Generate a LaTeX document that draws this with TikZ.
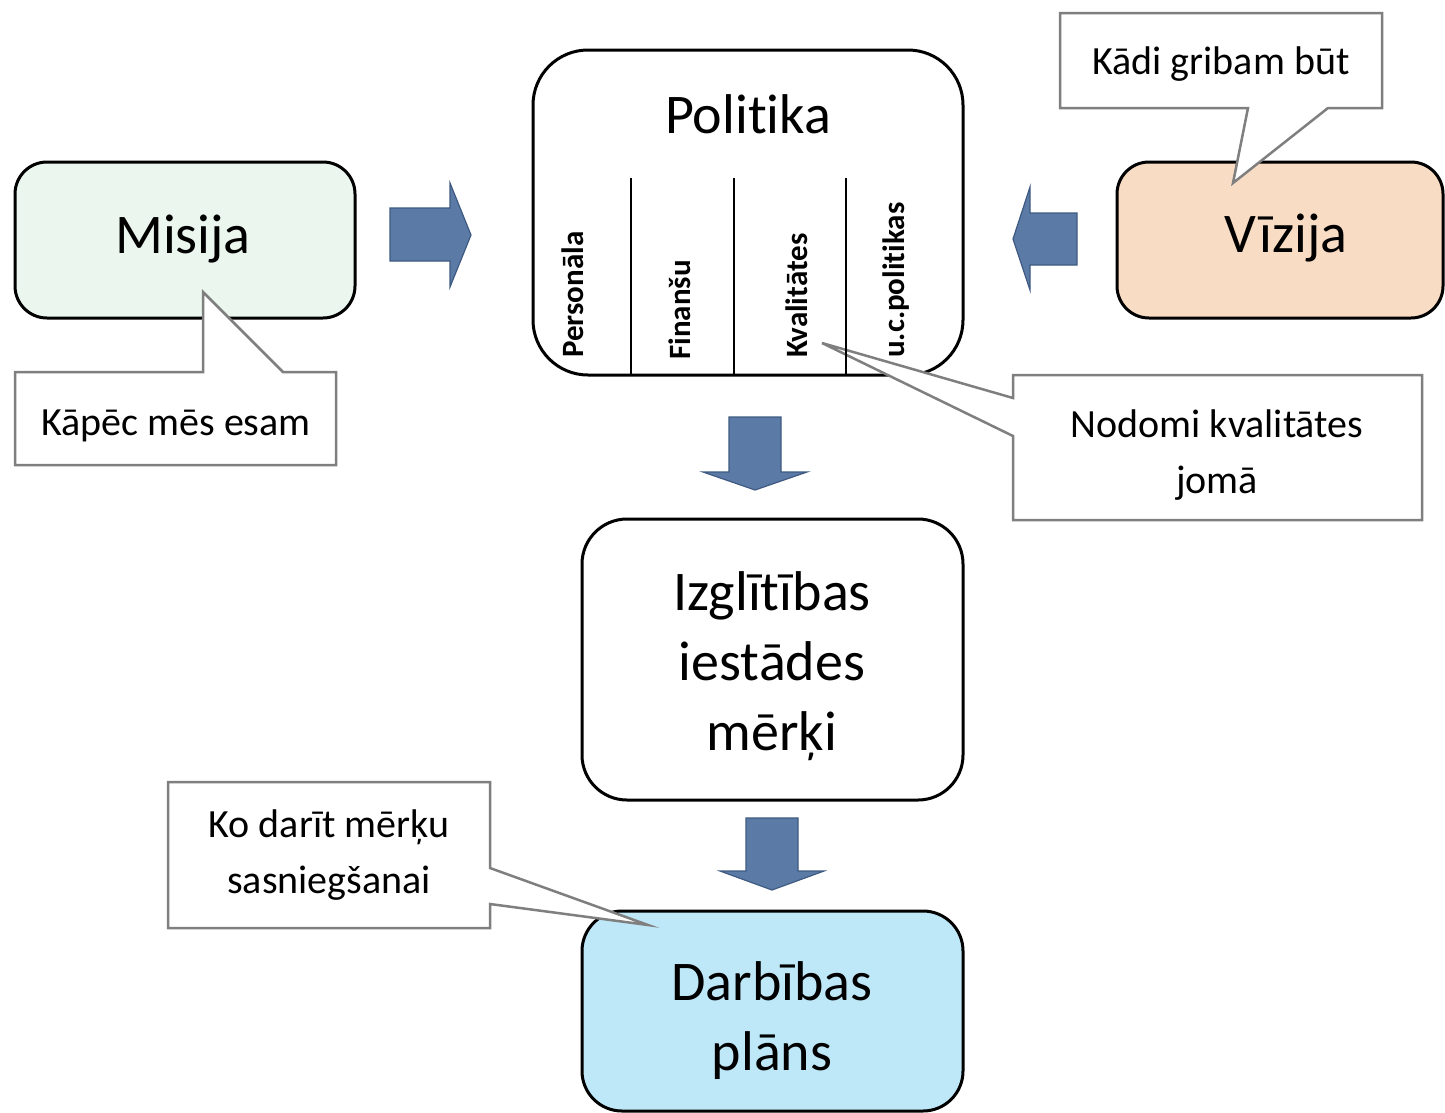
\documentclass[tikz,border=0pt]{standalone}
\usepackage{fontspec}
\setmainfont[Ligatures=NoCommon]{Carlito}
\definecolor{misfill}{HTML}{EAF6EE}
\definecolor{vizfill}{HTML}{F9DCC4}
\definecolor{darbfill}{HTML}{BEE8F8}
\definecolor{arrfill}{HTML}{5B7BA6}
\definecolor{arrline}{HTML}{3E5A82}
\definecolor{callgray}{HTML}{7F7F7F}
\begin{document}
\begin{tikzpicture}[x=1pt,y=-1pt,line join=miter]
\tikzset{
  mainbox/.style={draw=black,line width=3pt,inner sep=0pt},
  bigtxt/.style={inner sep=0pt,anchor=base,font=\fontsize{56}{68}\selectfont},
  smalltxt/.style={inner sep=0pt,anchor=base,font=\fontsize{40}{48}\selectfont},
  vtxt/.style={inner sep=0pt,anchor=west,rotate=90,font=\fontsize{31}{36}\selectfont\bfseries},
  callout/.style={draw=callgray,fill=white,line width=2.5pt},
  blockarrow/.style={fill=arrfill,draw=arrline,line width=1.2pt},
  divider/.style={draw=black,line width=1.5pt}
}
\useasboundingbox (0,0) rectangle (1445,1112);

% main boxes
\node[mainbox,fill=misfill,rounded corners=32pt,minimum width=340pt,minimum height=156pt] (misija) at (185,240) {};
\node[mainbox,fill=white,rounded corners=55pt,minimum width=430pt,minimum height=325pt] (politika) at (748,212.5) {};
\node[mainbox,fill=vizfill,rounded corners=32pt,minimum width=326pt,minimum height=156pt] (vizija) at (1280,240) {};
\node[mainbox,fill=white,rounded corners=45pt,minimum width=381pt,minimum height=281pt] (merki) at (772.5,659.5) {};
\node[mainbox,fill=darbfill,rounded corners=40pt,minimum width=381pt,minimum height=200pt] (plans) at (772.5,1011) {};

% box texts
\node[bigtxt] (tmis) at (183,253) {Misija};
\node[bigtxt] (tpol) at (748,133) {Politika};
\node[bigtxt] (tviz) at (1286,252) {Vīzija};
\node[bigtxt] (tiz1) at (772,610) {Izglītības};
\node[bigtxt] (tiz2) at (772,680) {iestādes};
\node[bigtxt] (tiz3) at (772,750) {mērķi};
\node[bigtxt] (tdb1) at (772,1000) {Darbības};
\node[bigtxt] (tdb2) at (772,1070) {plāns};

\node[vtxt] (vper) at (573,358) {Personāla};
\node[vtxt] (vfin) at (680,360) {Finanšu};
\node[vtxt] (vkva) at (797,358) {Kvalitātes};
\node[vtxt] (vucp) at (896,358) {u.c.politikas};

% block arrows
\draw[blockarrow] (390,208) -- (450,208) -- (450,183) -- (471,235) -- (450,287) -- (450,261) -- (390,261) -- cycle;
\draw[blockarrow] (1077,213) -- (1030,213) -- (1030,187) -- (1013,239) -- (1030,290) -- (1030,265) -- (1077,265) -- cycle;
\draw[blockarrow] (729,417) -- (781,417) -- (781,472) -- (807,472) -- (755,490) -- (703,472) -- (729,472) -- cycle;
\draw[blockarrow] (746,818) -- (798,818) -- (798,871) -- (824,871) -- (772,890) -- (720,871) -- (746,871) -- cycle;

% callouts
\draw[callout] (15,372) -- (203,372) -- (203,292) -- (283,372) -- (336,372) -- (336,465) -- (15,465) -- cycle;
\draw[callout] (1060,13) -- (1382,13) -- (1382,108) -- (1328,108) -- (1233,183) -- (1248,108) -- (1060,108) -- cycle;
\draw[callout] (1013,375) -- (1422,375) -- (1422,520) -- (1013,520) -- (1013,436) -- (822,343) -- (1013,398) -- cycle;
\draw[callout] (168,782) -- (490,782) -- (490,868) -- (648,925) -- (490,904) -- (490,928) -- (168,928) -- cycle;

% policy columns
\draw[divider] (631,178) -- (631,374);
\draw[divider] (734,178) -- (734,374);
\draw[divider] (846,178) -- (846,374);

\node[smalltxt] (ckap) at (176,435) {Kāpēc mēs esam};
\node[smalltxt] (ckad) at (1221,74) {Kādi gribam būt};
\node[smalltxt] (cnod1) at (1217,437) {Nodomi kvalitātes};
\node[smalltxt] (cnod2) at (1217,493) {jomā};
\node[smalltxt] (cko1) at (329,837) {Ko darīt mērķu};
\node[smalltxt] (cko2) at (329,893) {sasniegšanai};
\end{tikzpicture}
\end{document}
